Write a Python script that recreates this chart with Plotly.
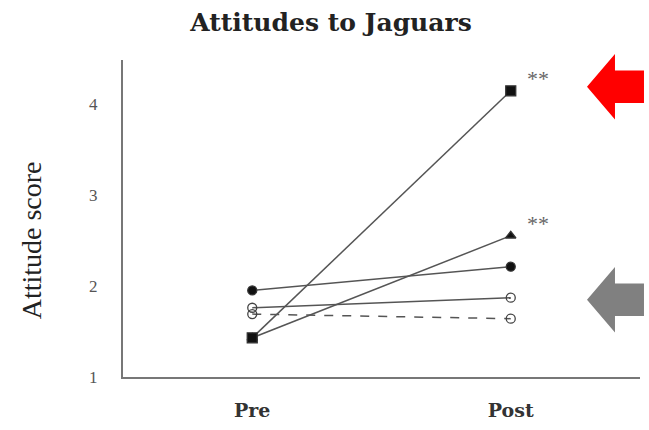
import plotly.graph_objects as go

# Attitude scores before and after the programme
phases = ["Pre", "Post"]
score_square = [1.43, 4.14]
score_triangle = [1.43, 2.55]
score_filled_circle = [1.95, 2.21]
score_open_circle = [1.76, 1.87]
score_open_dashed = [1.69, 1.64]
y_ticks = [1, 2, 3, 4]

W, H = 649, 430
ML, MR, MT, MB = 123, 9, 60, 50
PW, PH = W - ML - MR, H - MT - MB

LINE = "#555555"

fig = go.Figure()

def add(series, symbol, dash="solid", color=LINE, size=9, fill="#111"):
    fig.add_trace(go.Scatter(
        x=phases, y=series, mode="lines+markers",
        line=dict(color=color, width=1.5, dash=dash),
        marker=dict(symbol=symbol, size=size, color=fill,
                    line=dict(color="#333", width=1.3)),
        showlegend=False, hoverinfo="skip",
    ))

add(score_open_dashed, "circle-open", dash="dash", size=9, fill="#444")
add(score_open_circle, "circle-open", size=9, fill="#444")
add(score_filled_circle, "circle", size=9)
add(score_triangle, "triangle-up", size=9)
add(score_square, "square", size=10)

# significance markers
for val in (score_square[1], score_triangle[1]):
    fig.add_annotation(x=1, y=val, xref="x", yref="y", text="**",
                       showarrow=False, xshift=27, yshift=12,
                       font=dict(family="Liberation Serif", size=22, color="#666"))


def px(x):
    return (x - ML) / PW


def py(y):
    return (H - MB - y) / PH


def arrow(cy, color):
    tip_x, head_x, end_x = 587, 615, 644
    half_head, half_shaft = 33, 16.5
    pts = [(tip_x, cy), (head_x, cy - half_head), (head_x, cy - half_shaft),
           (end_x, cy - half_shaft), (end_x, cy + half_shaft),
           (head_x, cy + half_shaft), (head_x, cy + half_head)]
    path = "M " + " L ".join(f"{px(a):.4f},{py(b):.4f}" for a, b in pts) + " Z"
    fig.add_shape(type="path", path=path, xref="paper", yref="paper",
                  fillcolor=color, line=dict(width=0), layer="above")

arrow(87, "#ff0000")
arrow(302, "#808080")

fig.add_annotation(x=px(31), y=py(242), xref="paper", yref="paper",
                   text="Attitude score", textangle=-90, showarrow=False,
                   xanchor="center", yanchor="middle",
                   font=dict(family="Liberation Serif", size=28, color="#222"))

fig.update_layout(
    width=W, height=H,
    margin=dict(l=ML, r=MR, t=MT, b=MB),
    paper_bgcolor="white", plot_bgcolor="white",
    title=dict(text="<b>Attitudes to Jaguars</b>", xref="paper", x=px(331),
               xanchor="center", y=1 - 22 / H, yanchor="middle",
               font=dict(family="DejaVu Serif", size=25, color="#222")),
    xaxis=dict(range=[-0.5, 1.5], showgrid=False, zeroline=False,
               showline=True, linecolor="#777", linewidth=2,
               tickvals=phases, ticktext=[f"<b>{p}</b>" for p in phases],
               ticks="", ticklabelstandoff=15,
               tickfont=dict(family="DejaVu Serif", size=19, color="#333")),
    yaxis=dict(range=[1, 1 + PH / 92], showgrid=False, zeroline=False,
               showline=True, linecolor="#777", linewidth=2,
               tickvals=y_ticks, ticks="", ticklabelstandoff=20,
               tickfont=dict(family="Liberation Serif", size=17, color="#555")),
)

fig.write_html("out.html")
